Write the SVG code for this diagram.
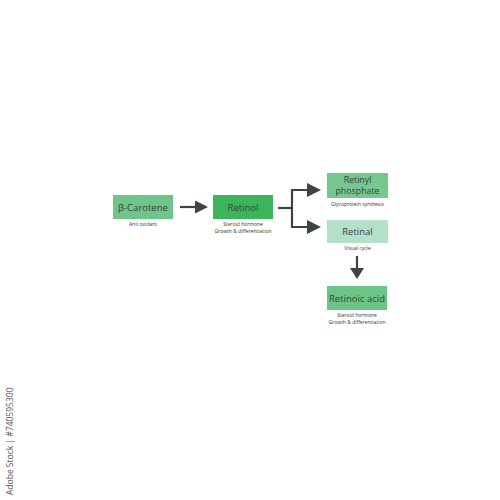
<svg xmlns="http://www.w3.org/2000/svg" width="500" height="500" viewBox="0 0 500 500">
<defs>
<style>
.lbl{font-family:"Open Sans","Liberation Sans",sans-serif;font-size:9.5px;fill:#3b3f3d;text-anchor:middle}
.lbl2{font-family:"Open Sans","Liberation Sans",sans-serif;font-size:8.8px;fill:#3b3f3d;text-anchor:middle}
.sub{font-family:"Open Sans","Liberation Sans",sans-serif;font-size:5px;fill:#333;text-anchor:middle}
.ln{stroke:#3d4542;stroke-width:2.2;fill:none}
.ah{fill:#3d4542}
.wm{font-family:"Open Sans","Liberation Sans",sans-serif;font-size:8.5px;fill:#555}
</style>
</defs>
<rect width="500" height="500" fill="#fff"/>
<g id="connectors">
<line class="ln" x1="180" y1="207" x2="197" y2="207"/>
<polygon class="ah" points="195,200.5 208,207 195,213.5"/>
<polyline class="ln" points="278,208 292,208"/>
<polyline class="ln" points="309,190 292,190 292,227 309,227"/>
<polygon class="ah" points="307,183 321,190 307,197"/>
<polygon class="ah" points="307,220 321,227 307,234"/>
<line class="ln" x1="357" y1="256" x2="357" y2="270"/>
<polygon class="ah" points="350,268 364,268 357,279"/>
</g>
<g id="carotene">
<rect x="113" y="195" width="60" height="24" fill="#6fc48a"/>
<text class="lbl" x="143" y="210.5">β-Carotene</text>
<text class="sub" x="143" y="225.5">Anti oxidant</text>
</g>
<g id="retinol">
<rect x="213" y="195" width="60" height="24" fill="#3db45b"/>
<text class="lbl" x="243" y="210.5">Retinol</text>
<text class="sub" x="243" y="226">Steroid hormone</text>
<text class="sub" x="243" y="232.5">Growth &amp; differentiation</text>
</g>
<g id="retinyl-phosphate">
<rect x="327" y="173" width="61" height="25" fill="#78c790"/>
<text class="lbl2" x="357.5" y="183">Retinyl<tspan x="357.5" dy="11">phosphate</tspan></text>
<text class="sub" x="357.5" y="206">Glycoprotein synthesis</text>
</g>
<g id="retinal">
<rect x="327" y="220" width="61" height="23" fill="#b4e0c7"/>
<text class="lbl" x="357.5" y="234.5">Retinal</text>
<text class="sub" x="357.5" y="250">Visual cycle</text>
</g>
<g id="retinoic-acid">
<rect x="327" y="286" width="60" height="24" fill="#6cc487"/>
<text class="lbl" x="357" y="301.5">Retinoic acid</text>
<text class="sub" x="357" y="317">Steroid hormone</text>
<text class="sub" x="357" y="323.5">Growth &amp; differentiation</text>
</g>
<text class="wm" transform="translate(13,495) rotate(-90)">Adobe Stock | #740595300</text>
</svg>
